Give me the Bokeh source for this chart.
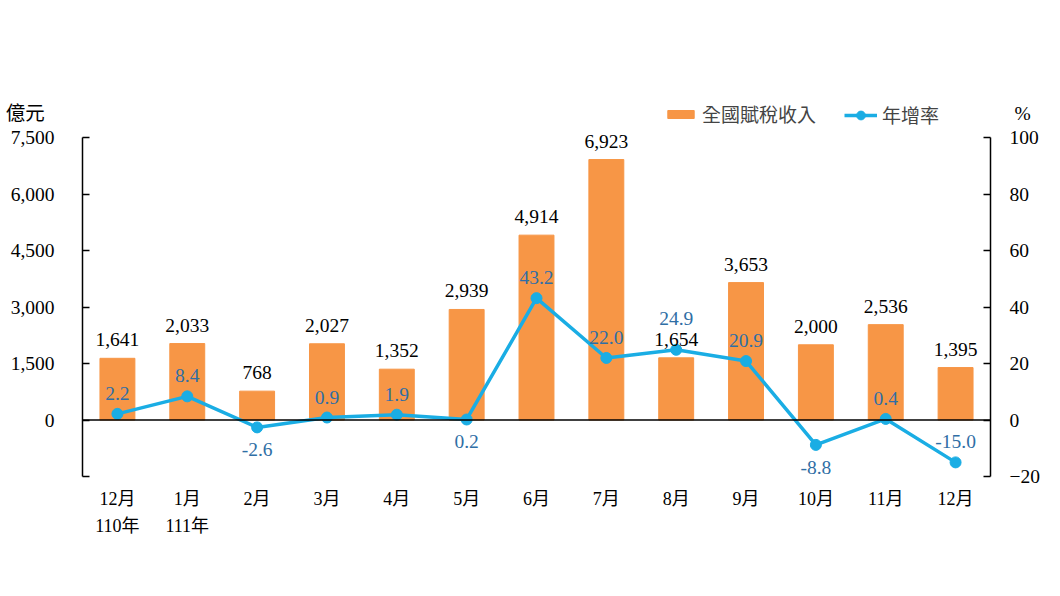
from bokeh.plotting import figure
from bokeh.models import (ColumnDataSource, Range1d, LinearAxis, FixedTicker,
                          NumeralTickFormatter, Span, LabelSet, Legend, LegendItem)
from bokeh.embed import file_html
from bokeh.resources import INLINE

# data
months = ["12月\n110年", "1月\n111年", "2月", "3月", "4月", "5月", "6月",
          "7月", "8月", "9月", "10月", "11月", "12月"]
tax = [1641, 2033, 768, 2027, 1352, 2939, 4914, 6923, 1654, 3653, 2000, 2536, 1395]
growth = [2.2, 8.4, -2.6, 0.9, 1.9, 0.2, 43.2, 22.0, 24.9, 20.9, -8.8, 0.4, -15.0]
growth_side = ["above", "above", "below", "above", "above", "below", "above",
               "above", "above", "above", "below", "above", "above"]
# extra lift (px) for labels that would collide with a bar label
growth_nudge = [0, 0, 0, 0, 0, 0, 0, 0, 11, 0, 0, 0, 0]

left_ticks = [-1500, 0, 1500, 3000, 4500, 6000, 7500]
right_ticks = [-20, 0, 20, 40, 60, 80, 100]
left_unit, right_unit = "億元", "%"

SERIF = "Liberation Serif, Noto Sans CJK TC"
CJK = "Noto Sans CJK TC"
BAR = "#F79646"
LINE = "#1AADE4"
LBL = "#2F6EA5"
NB = "\u00a0"

src = ColumnDataSource(dict(m=months, tax=tax, growth=growth,
                            tax_txt=[f"{v:,}" for v in tax]))
up = [i for i, s in enumerate(growth_side) if s == "above"]
dn = [i for i, s in enumerate(growth_side) if s == "below"]
src_up = ColumnDataSource(dict(m=[months[i] for i in up], g=[growth[i] for i in up],
                               t=[f"{growth[i]:.1f}" for i in up],
                               dy=[14 + growth_nudge[i] for i in up]))
src_dn = ColumnDataSource(dict(m=[months[i] for i in dn], g=[growth[i] for i in dn],
                               t=[f"{growth[i]:.1f}" for i in dn],
                               dy=[-16 - growth_nudge[i] for i in dn]))

# ranges carry some head room above the top tick for the legend / unit row
p = figure(x_range=months, y_range=Range1d(-1500, 8625),
           width=1044, height=580, output_backend="svg", toolbar_location=None,
           min_border_left=82, min_border_right=54, min_border_top=95, min_border_bottom=104)
p.extra_y_ranges = {"pct": Range1d(-20, 115)}
p.outline_line_color = None
p.xgrid.grid_line_color = None
p.ygrid.grid_line_color = None

bars = p.vbar(x="m", top="tax", width=0.5, source=src, color=BAR)
ln = p.line(x="m", y="growth", source=src, y_range_name="pct", line_color=LINE, line_width=3.5)
pts = p.scatter(x="m", y="growth", source=src, y_range_name="pct", size=11,
                fill_color=LINE, line_color=LINE)

p.add_layout(Span(location=0, dimension="width", line_color="black", line_width=1.5))

# inner axes: line + inward ticks only
ya = p.yaxis[0]
ya.ticker = FixedTicker(ticks=left_ticks)
ya.bounds = (left_ticks[0], left_ticks[-1])
ra = LinearAxis(y_range_name="pct", ticker=FixedTicker(ticks=right_ticks),
                bounds=(right_ticks[0], right_ticks[-1]))
p.add_layout(ra, "right")
for ax, t in ((ya, left_ticks), (ra, right_ticks)):
    ax.axis_line_color = "black"
    ax.axis_line_width = 1.5
    ax.major_tick_in = 7
    ax.major_tick_out = 0
    ax.major_tick_line_color = "black"
    ax.major_tick_line_width = 1.5
    ax.minor_tick_line_color = None
    ax.major_label_overrides = {v: "" for v in t}
    ax.major_label_standoff = 0

# outer axes: tick labels and units
yl = LinearAxis(ticker=FixedTicker(ticks=left_ticks + [8150]),
                formatter=NumeralTickFormatter(format="0,0"),
                major_label_overrides={-1500: "", 8150: left_unit + NB + NB})
p.add_layout(yl, "left")
rl = LinearAxis(y_range_name="pct", ticker=FixedTicker(ticks=right_ticks + [108.5]),
                major_label_overrides={108.5: NB + right_unit})
p.add_layout(rl, "right")
for ax in (yl, rl):
    ax.axis_line_color = None
    ax.major_tick_line_color = None
    ax.minor_tick_line_color = None
    ax.major_label_text_font = SERIF
    ax.major_label_text_font_size = "19.5px"
    ax.major_label_text_color = "black"
yl.major_label_standoff = 22
rl.major_label_standoff = 13

xa = p.xaxis[0]
xa.axis_line_color = None
xa.major_tick_line_color = None
xa.minor_tick_line_color = None
xa.major_label_text_font = SERIF
xa.major_label_text_font_size = "18px"
xa.major_label_text_color = "black"
xa.major_label_text_line_height = 1.35
xa.major_label_standoff = 6

# value labels
p.add_layout(LabelSet(x="m", y="tax", text="tax_txt", source=src, y_offset=12,
                      text_align="center", text_baseline="bottom",
                      text_font=SERIF, text_font_size="19.5px", text_color="black"))
p.add_layout(LabelSet(x="m", y="g", text="t", source=src_up, y_range_name="pct", y_offset="dy",
                      text_align="center", text_baseline="bottom",
                      text_font=SERIF, text_font_size="19.5px", text_color=LBL))
p.add_layout(LabelSet(x="m", y="g", text="t", source=src_dn, y_range_name="pct", y_offset="dy",
                      text_align="center", text_baseline="top",
                      text_font=SERIF, text_font_size="19.5px", text_color=LBL))

common = dict(orientation="horizontal", glyph_width=33, label_standoff=5,
              label_text_font=CJK, label_text_font_size="19px", padding=0, margin=0,
              border_line_color=None, background_fill_alpha=0)
p.add_layout(Legend(items=[LegendItem(label="全國賦稅收入", renderers=[bars])],
                    location=(582, 349), glyph_height=10, **common))
p.add_layout(Legend(items=[LegendItem(label="年增率", renderers=[ln, pts])],
                    location=(762, 348), glyph_height=22, **common))

open("out.html", "w").write(file_html(p, INLINE))
